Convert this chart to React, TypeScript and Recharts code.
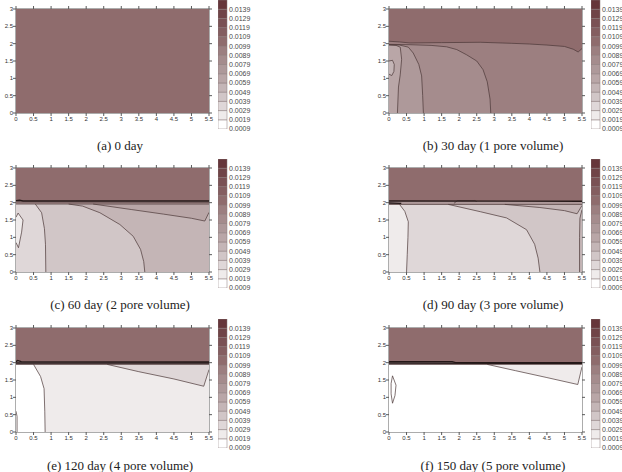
import React from 'react';
import { ScatterChart, Scatter, XAxis, YAxis, BarChart, Bar } from 'recharts';

type Pt = [number, number];
type Region = { level: number; pts: Pt[] };
type Panel = { title: string; regions: Region[]; lines: Pt[][]; heavy: Pt[][] };

// Axes (metres)
const X_TICKS = [0, 0.5, 1, 1.5, 2, 2.5, 3, 3.5, 4, 4.5, 5, 5.5];
const Y_TICKS = [0, 0.5, 1, 1.5, 2, 2.5, 3];
const X_DOMAIN: [number, number] = [0, 5.5];
const Y_DOMAIN: [number, number] = [0, 3];

// Contour levels (lower bound of each colour band) and their fills
const LEVELS = [0.0009, 0.0019, 0.0029, 0.0039, 0.0049, 0.0059, 0.0069, 0.0079, 0.0089, 0.0099, 0.0109, 0.0119, 0.0129, 0.0139];
const LEVEL_TOP = 0.0149;
const LEVEL_COLORS = [
  '#ffffff', '#efebeb', '#dfd7d8', '#d1c6c7', '#c4b5b6', '#b9a6a7', '#ae999a',
  '#a58c8d', '#9c7f80', '#8f6c6d', '#845e60', '#7a5154', '#704447', '#66363a',
];

const FULL: Pt[] = [[0, 0], [5.5, 0], [5.5, 3], [0, 3]];

// (a) 0 day
const A_REGIONS: Region[] = [{ level: 0.0099, pts: FULL }];

// (b) 30 day
const B_TOP_LINE: Pt[] = [[0, 2.07], [0.3, 2.05], [0.6, 2.02], [1.5, 2.03], [2.6, 2.04], [3.5, 2.01], [4.0, 1.99], [4.5, 1.96], [5.0, 1.92], [5.25, 1.84], [5.39, 1.76], [5.5, 1.86]];
const B_C3: Pt[] = [[2.9, 0], [2.88, 0.4], [2.8, 0.9], [2.68, 1.25], [2.5, 1.5], [2.21, 1.68], [1.93, 1.83], [1.64, 1.91], [1.2, 1.95], [0.6, 1.97], [0, 1.98]];
const B_C2: Pt[] = [[0.98, 0], [0.96, 0.5], [0.93, 1.07], [0.85, 1.4], [0.69, 1.73], [0.55, 1.9], [0.3, 1.96], [0, 1.97]];
const B_C1: Pt[] = [[0.24, 0], [0.27, 0.75], [0.32, 1.1], [0.36, 1.55], [0.32, 1.9], [0.2, 1.95], [0, 1.96]];
const B_BUBBLE: Pt[] = [[0, 1.5], [0.1, 1.52], [0.15, 1.4], [0.14, 1.2], [0.08, 1.08], [0, 1.12]];

// (c) 60 day
const C_BAND_TOP: Pt[] = [[0, 2.06], [0.1, 2.07], [0.2, 2.05], [5.5, 2.05]];
const C_BAND_MID: Pt[] = [[0, 2.02], [5.5, 2.01]];
const C_BAND_LOW: Pt[] = [[0, 1.96], [5.5, 1.96]];
const C_CA: Pt[] = [[0.85, 0], [0.84, 0.8], [0.81, 1.25], [0.73, 1.71], [0.55, 1.96]];
const C_CB: Pt[] = [[3.67, 0], [3.64, 0.3], [3.55, 0.65], [3.34, 1.03], [2.96, 1.37], [2.39, 1.71], [1.9, 1.9], [1.5, 1.96]];
const C_WEDGE: Pt[] = [[2.2, 1.96], [3.3, 1.8], [4.2, 1.67], [5.0, 1.55], [5.38, 1.47], [5.5, 1.72]];
const C_BUBBLE: Pt[] = [[0, 1.58], [0.06, 1.7], [0.2, 1.5], [0.16, 1.15], [0.07, 0.7], [0, 0.85]];

// (d) 90 day
const D_BAND_TOP: Pt[] = [[0, 2.05], [5.5, 2.04]];
const D_BAND_LOW: Pt[] = [[0, 1.95], [5.5, 1.95]];
const D_BUMP: Pt[] = [[1.85, 1.98], [1.95, 2.06], [2.45, 2.06], [2.5, 2.03]];
const D_LEFT_DARK: Pt[] = [[0, 1.99], [0.35, 1.98]];
const D_CL: Pt[] = [[0.5, 0], [0.52, 0.5], [0.54, 1.0], [0.55, 1.45], [0.45, 1.75], [0.3, 1.95]];
const D_CM: Pt[] = [[4.3, 0], [4.25, 0.4], [4.15, 0.8], [3.92, 1.22], [3.35, 1.56], [2.6, 1.74], [1.69, 1.95]];
const D_WEDGE: Pt[] = [[3.3, 1.95], [4.3, 1.86], [5.0, 1.77], [5.36, 1.68], [5.5, 1.92]];
const D_EDGE: Pt[] = [[5.43, 0], [5.43, 1.0], [5.44, 1.55], [5.5, 1.8]];

// (e) 120 day
const E_BAND_TOP: Pt[] = [[0, 2.03], [0.05, 2.06], [0.15, 2.03], [5.5, 2.02]];
const E_BAND_MID: Pt[] = [[0, 1.99], [5.5, 1.99]];
const E_BAND_LOW: Pt[] = [[0, 1.95], [5.5, 1.95]];
const E_CL: Pt[] = [[0.83, 0], [0.82, 0.6], [0.8, 1.25], [0.7, 1.6], [0.5, 1.95]];
const E_WEDGE: Pt[] = [[2.6, 1.95], [3.5, 1.74], [4.5, 1.53], [5.35, 1.32], [5.5, 1.8]];
const E_EDGE: Pt[] = [[0.03, 0], [0.03, 0.45], [0, 0.6]];

// (f) 150 day
const F_BAND_TOP: Pt[] = [[0, 2.03], [1.8, 2.03], [1.9, 2.0], [5.5, 2.0]];
const F_BAND_MID: Pt[] = [[0, 1.99], [5.5, 1.98]];
const F_BAND_LOW: Pt[] = [[0, 1.95], [5.5, 1.95]];
const F_WEDGE: Pt[] = [[2.8, 1.95], [3.6, 1.77], [4.5, 1.57], [5.38, 1.37], [5.5, 1.88]];
const F_BUBBLE: Pt[] = [[0.1, 1.62], [0.2, 1.35], [0.17, 1.05], [0.1, 0.83], [0.06, 1.1], [0.06, 1.4], [0.1, 1.62]];

const rev = (pts: Pt[]): Pt[] => [...pts].reverse();
const topCap = (band: Pt[]): Pt[] => [[0, 3], [5.5, 3], ...rev(band)];
const strip = (low: Pt[], high: Pt[]): Pt[] => [...low, ...rev(high)];

const PANELS: Panel[] = [
  { title: '(a) 0 day', regions: A_REGIONS, lines: [], heavy: [] },
  {
    title: '(b) 30 day (1 pore volume)',
    regions: [
      { level: 0.0089, pts: FULL },
      { level: 0.0079, pts: [[0, 0], ...B_C3] },
      { level: 0.0069, pts: [[0, 0], ...B_C2] },
      { level: 0.0059, pts: [[0, 0], ...B_C1] },
      { level: 0.0049, pts: B_BUBBLE },
      { level: 0.0099, pts: topCap(B_TOP_LINE) },
    ],
    lines: [B_TOP_LINE, B_C3, B_C2, B_C1, B_BUBBLE],
    heavy: [],
  },
  {
    title: '(c) 60 day (2 pore volume)',
    regions: [
      { level: 0.0049, pts: FULL },
      { level: 0.0039, pts: [[0, 0], ...C_CB, [0, 1.96]] },
      { level: 0.0029, pts: [[0, 0], ...C_CA, [0, 1.96]] },
      { level: 0.0019, pts: C_BUBBLE },
      { level: 0.0059, pts: [...C_WEDGE, [5.5, 1.96]] },
      { level: 0.0079, pts: strip(C_BAND_LOW, C_BAND_TOP) },
      { level: 0.0099, pts: topCap(C_BAND_TOP) },
    ],
    lines: [C_BAND_MID, C_BAND_LOW, C_CA, C_CB, C_WEDGE, C_BUBBLE],
    heavy: [C_BAND_TOP],
  },
  {
    title: '(d) 90 day (3 pore volume)',
    regions: [
      { level: 0.0039, pts: FULL },
      { level: 0.0029, pts: [[0, 0], ...D_CM, [0, 1.95]] },
      { level: 0.0019, pts: [[0, 0], ...D_CL, [0, 1.95]] },
      { level: 0.0049, pts: [...D_WEDGE, [5.5, 1.95]] },
      { level: 0.0049, pts: [...D_EDGE, [5.5, 0]] },
      { level: 0.0069, pts: strip(D_BAND_LOW, D_BAND_TOP) },
      { level: 0.0099, pts: topCap(D_BAND_TOP) },
    ],
    lines: [D_BAND_LOW, D_BUMP, D_CL, D_CM, D_WEDGE, D_EDGE],
    heavy: [D_BAND_TOP, D_LEFT_DARK],
  },
  {
    title: '(e) 120 day (4 pore volume)',
    regions: [
      { level: 0.0019, pts: FULL },
      { level: 0.0009, pts: [[0, 0], ...E_CL, [0, 1.95]] },
      { level: 0.0029, pts: [...E_WEDGE, [5.5, 1.95]] },
      { level: 0.0069, pts: strip(E_BAND_LOW, E_BAND_TOP) },
      { level: 0.0099, pts: topCap(E_BAND_TOP) },
    ],
    lines: [E_BAND_LOW, E_CL, E_WEDGE, E_EDGE],
    heavy: [E_BAND_TOP, E_BAND_MID],
  },
  {
    title: '(f) 150 day (5 pore volume)',
    regions: [
      { level: 0.0009, pts: FULL },
      { level: 0.0019, pts: [...F_WEDGE, [5.5, 1.95]] },
      { level: 0.0069, pts: strip(F_BAND_LOW, F_BAND_TOP) },
      { level: 0.0099, pts: topCap(F_BAND_TOP) },
    ],
    lines: [F_BAND_LOW, F_WEDGE, F_BUBBLE],
    heavy: [F_BAND_TOP, F_BAND_MID],
  },
];

// Page geometry
const COL_LEFT = [0, 373];
const ROW_PLOT_TOP = [9, 168, 328];
const TITLE_CX = [120, 493];
const TITLE_CY = [146, 305, 466];
const PLOT_W = 193;
const PLOT_H = 104;
const Y_AXIS_W = 16;
const X_AXIS_H = 16;
const TOP_AXIS_H = 6;
const RIGHT_AXIS_W = 7;

const SANS = '"Liberation Sans", Arial, sans-serif';
const SERIF = '"Liberation Serif", "Times New Roman", serif';
const AXIS = '#5a5a5a';
const LINE = '#4a3637';

const colorOf = (level: number) =>
  LEVEL_COLORS[LEVELS.findIndex((l) => Math.abs(l - level) < 1e-7)];
const toRows = (pts: Pt[]) => pts.map(([x, y]) => ({ x, y }));
const noShape = () => <g />;

function ContourPanel({ panel }: { panel: Panel }) {
  return (
    <ScatterChart
      width={Y_AXIS_W + PLOT_W + RIGHT_AXIS_W}
      height={TOP_AXIS_H + PLOT_H + X_AXIS_H}
      margin={{ top: 0, right: 0, bottom: 0, left: 0 }}
    >
      <XAxis
        type="number" dataKey="x" domain={X_DOMAIN} ticks={X_TICKS} interval={0}
        allowDataOverflow height={X_AXIS_H} tickSize={3} tickMargin={1} stroke={AXIS}
        tick={{ fontSize: 6, fill: '#333', fontFamily: SANS }}
      />
      <XAxis
        xAxisId="top" orientation="top" type="number" dataKey="x" domain={X_DOMAIN}
        ticks={X_TICKS} interval={0} allowDataOverflow height={TOP_AXIS_H} tickSize={3}
        tick={noShape} stroke={AXIS}
      />
      <YAxis
        type="number" dataKey="y" domain={Y_DOMAIN} ticks={Y_TICKS} interval={0}
        allowDataOverflow width={Y_AXIS_W} tickSize={3} tickMargin={0} stroke={AXIS}
        tick={{ fontSize: 6, fill: '#333', fontFamily: SANS }}
      />
      <YAxis
        yAxisId="right" orientation="right" type="number" dataKey="y" domain={Y_DOMAIN}
        ticks={Y_TICKS} interval={0} allowDataOverflow width={RIGHT_AXIS_W} tickSize={3}
        tick={noShape} stroke={AXIS}
      />
      {panel.regions.map((r, i) => (
        <Scatter
          key={`region-${i}`} data={toRows(r.pts)} shape={noShape}
          line={{ fill: colorOf(r.level), stroke: 'none' }}
          isAnimationActive={false} legendType="none"
        />
      ))}
      {panel.lines.map((pts, i) => (
        <Scatter
          key={`line-${i}`} data={toRows(pts)} shape={noShape}
          line={{ fill: 'none', stroke: LINE, strokeWidth: 0.7 }}
          isAnimationActive={false} legendType="none"
        />
      ))}
      {panel.heavy.map((pts, i) => (
        <Scatter
          key={`heavy-${i}`} data={toRows(pts)} shape={noShape}
          line={{ fill: 'none', stroke: '#241818', strokeWidth: 1.4 }}
          isAnimationActive={false} legendType="none"
        />
      ))}
    </ScatterChart>
  );
}

const BAR_ROW = [
  {
    name: 'scale',
    base: LEVELS[0],
    ...Object.fromEntries(LEVELS.map((lv, i) => [`b${i}`, (i + 1 < LEVELS.length ? LEVELS[i + 1] : LEVEL_TOP) - lv])),
  },
];

function ColorBar() {
  return (
    <BarChart
      width={56} height={139} data={BAR_ROW}
      margin={{ top: 5, right: 0, bottom: 5, left: 0 }}
      barCategoryGap={0} barGap={0}
    >
      <XAxis dataKey="name" hide />
      <YAxis
        orientation="right" type="number" domain={[LEVELS[0], LEVEL_TOP]} ticks={LEVELS}
        interval={0} allowDataOverflow width={47} tickLine={false} tickSize={0} tickMargin={2}
        axisLine={false} stroke="#777"
        tickFormatter={(v: number) => v.toFixed(4)}
        tick={{ fontSize: 7, fill: '#4a4a4a', fontFamily: SANS }}
      />
      <Bar dataKey="base" stackId="s" fill="none" isAnimationActive={false} />
      {LEVELS.map((lv, i) => (
        <Bar
          key={lv} dataKey={`b${i}`} stackId="s" fill={LEVEL_COLORS[i]}
          stroke="#8a7a7b" strokeWidth={0.5} isAnimationActive={false}
        />
      ))}
    </BarChart>
  );
}

export default function App() {
  return (
    <div
      style={{
        position: 'absolute', left: 0, top: 0, width: 622, height: 472,
        overflow: 'hidden', background: '#ffffff',
      }}
    >
      {PANELS.map((panel, idx) => {
        const col = idx % 2;
        const row = Math.floor(idx / 2);
        const plotTop = ROW_PLOT_TOP[row];
        const left = COL_LEFT[col];
        const plotRight = left + Y_AXIS_W + PLOT_W;
        return (
          <React.Fragment key={panel.title}>
            <div style={{ position: 'absolute', left, top: plotTop - TOP_AXIS_H }}>
              <ContourPanel panel={panel} />
            </div>
            <div style={{ position: 'absolute', left: plotRight + 9, top: plotTop - 9 - 5 }}>
              <ColorBar />
            </div>
            <div
              style={{
                position: 'absolute', left: TITLE_CX[col] - 150, width: 300,
                top: TITLE_CY[row] - 8, height: 16, lineHeight: '16px',
                textAlign: 'center', fontFamily: SERIF, fontSize: 13, color: '#222',
              }}
            >
              {panel.title}
            </div>
          </React.Fragment>
        );
      })}
    </div>
  );
}
